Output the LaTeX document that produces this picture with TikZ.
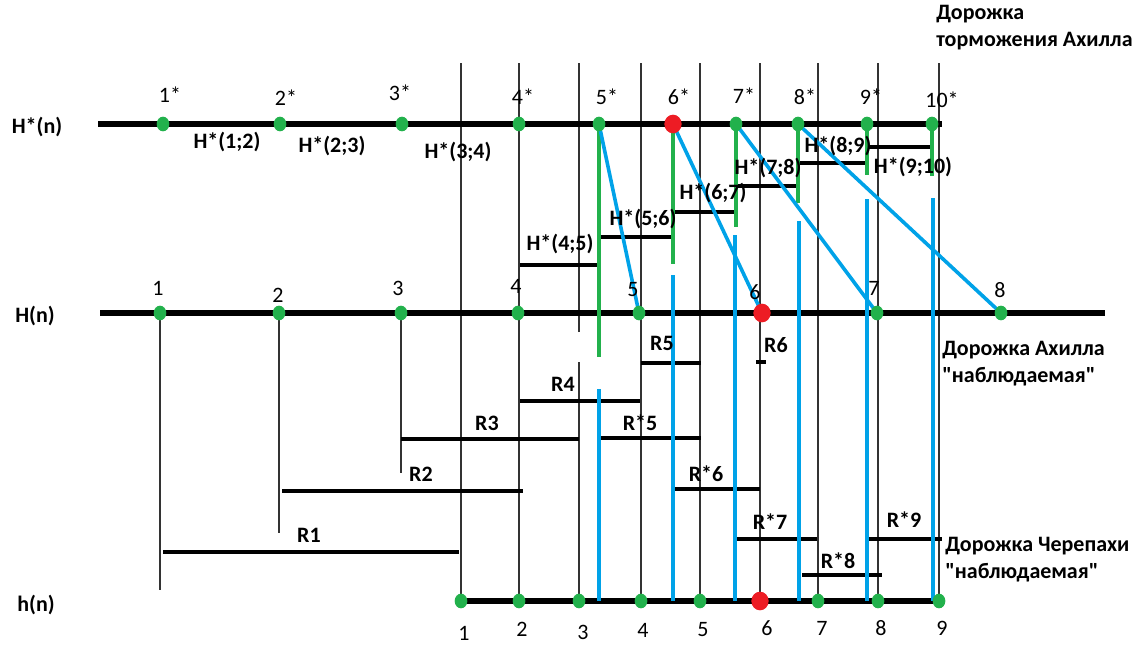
\documentclass[tikz,border=0pt]{standalone}
\usepackage{fontspec}
\setmainfont{Carlito}[Ligatures=TeXOff]
\usetikzlibrary{shapes.geometric}
\definecolor{pgreen}{HTML}{22B14C}
\definecolor{pblue}{HTML}{00A2E8}
\definecolor{pred}{HTML}{ED1C24}
\begin{document}
\begin{tikzpicture}[x=0.75pt,y=-0.75pt,
  track/.style={line width=4.4pt},
  thinline/.style={line width=0.8pt, draw=black!80},
  seg/.style={line width=2.8pt},
  gline/.style={line width=2.6pt, draw=pgreen},
  bline/.style={line width=2.7pt, draw=pblue},
  gdot/.style={ellipse, fill=pgreen, inner sep=0pt, minimum width=9.5pt, minimum height=11pt},
  rdot/.style={ellipse, fill=pred, inner sep=0pt, minimum width=13pt, minimum height=14pt},
  lbl/.style={font=\fontsize{16.5}{19}\selectfont\bfseries, inner sep=0pt},
  num/.style={font=\fontsize{16.5}{19}\selectfont, inner sep=0pt},
  side/.style={font=\fontsize{16.5}{20}\selectfont\bfseries, align=left, anchor=north west, inner sep=0pt}
]
\useasboundingbox (0,0) rectangle (1146,644);
% positions
\foreach \n/\x in {1/163,2/280,3/402,4/519,5/599,6/673,7/736,8/798,9/867,10/932}
  \coordinate (s\n) at (\x,124);
\foreach \n/\x in {1/160,2/279,3/401,4/518,5/639,6/762,7/877,8/1001}
  \coordinate (m\n) at (\x,313);
\foreach \n/\x in {1/461,2/519,3/579,4/641,5/700,6/760,7/818,8/878,9/939}
  \coordinate (b\n) at (\x,601);
\coordinate (topv) at (0,63);
\coordinate (gapA) at (0,332);
\coordinate (gapB) at (0,362);
% thin verticals
\foreach \n in {1,2,4,5,6,7,8,9}
  \draw[thinline] (b\n) -- (b\n |- topv);
\draw[thinline] (b3) -- (b3 |- gapB);
\draw[thinline] (b3 |- gapA) -- (b3 |- topv);
\coordinate (m1e) at (160,590);
\coordinate (m2e) at (279,533);
\coordinate (m3e) at (401,473);
\foreach \n in {1,2,3} \draw[thinline] (m\n) -- (m\n e);
% tracks
\coordinate (tA) at (98,124);  \coordinate (tB) at (942,124);
\coordinate (mA) at (100,313); \coordinate (mB) at (1105,313);
\coordinate (bA) at (458,601); \coordinate (bB) at (940,601);
\draw[track] (tA) -- (tB);
\draw[track] (mA) -- (mB);
\draw[track] (bA) -- (bB);
% H* staircase
\draw[seg] (520,265) -- (600,265);
\draw[seg] (600,237) -- (673,237);
\draw[seg] (673,212) -- (737,212);
\draw[seg] (737,186) -- (799,186);
\draw[seg] (799,163) -- (867,163);
\draw[seg] (867,147) -- (933,147);
% R segments
\draw[seg] (163,552) -- (459,552);
\draw[seg] (282,491) -- (523,491);
\draw[seg] (401,439) -- (579,439);
\draw[seg] (520,401) -- (640,401);
\draw[seg] (641,363) -- (701,363);
\draw[seg] (756,362) -- (766,362);
\draw[seg] (599,438) -- (701,438);
\draw[seg] (673,489) -- (760,489);
\draw[seg] (735,539) -- (817,539);
\draw[seg] (802,575) -- (882,575);
\draw[seg] (868,539) -- (942,539);
% green verticals
\coordinate (g5) at (599,357); \coordinate (g6) at (673,264);
\coordinate (g7) at (736,227); \coordinate (g8) at (798,203);
\coordinate (g9) at (867,175); \coordinate (g10) at (932,176);
\foreach \n in {5,...,10} \draw[gline] (s\n) -- (g\n);
% blue verticals
\foreach \n/\x/\y in {5/599/389,6/673/275,7/735/235,8/799/221,9/867/199,10/933/198}{
  \coordinate (u\n) at (\x,\y);
  \coordinate (v\n) at (\x,601);
  \draw[bline] (u\n) -- (v\n);
}
% blue diagonals
\foreach \n in {5,6,7,8} \draw[bline] (s\n) -- (m\n);
% dots
\foreach \n in {1,2,3,4,5,7,8,9,10} \node[gdot] (S\n) at (s\n) {};
\node[rdot] (S6) at (s6) {};
\foreach \n in {1,2,3,4,5,7,8} \node[gdot] (M\n) at (m\n) {};
\node[rdot] (M6) at (m6) {};
\foreach \n in {1,2,3,4,5,7,8,9} \node[gdot] (B\n) at (b\n) {};
\node[rdot] (B6) at (b6) {};
% star labels
\foreach \n/\x/\y in {1/170/95,2/286/98,3/400/93,4/523/97,5/607/97,6/679/97,7/744/96,8/805/97,9/871/97,10/942/100}
  \node[num] (ls\n) at (\x,\y) {\n*};
% middle labels
\foreach \n/\x/\y in {1/158/288,2/278/295,3/398/288,4/516/286,5/633/290,6/755/292,7/874/288,8/1000/290}
  \node[num] (lm\n) at (\x,\y) {\n};
% bottom labels
\foreach \n/\x/\y in {1/464/633,2/522/629,3/583/632,4/643/630,5/703/630,6/767/628,7/822/628,8/881/628,9/942/628}
  \node[num] (lb\n) at (\x,\y) {\n};
% H* labels
\node[lbl] (h12) at (227,142) {H*(1;2)};
\node[lbl] (h23) at (332,146) {H*(2;3)};
\node[lbl] (h34) at (458,152) {H*(3;4)};
\node[lbl] (h45) at (560,244) {H*(4;5)};
\node[lbl] (h56) at (643,219) {H*(5;6)};
\node[lbl] (h67) at (713,193) {H*(6;7)};
\node[lbl] (h78) at (768,168) {H*(7;8)};
\node[lbl] (h89) at (838,146) {H*(8;9)};
\node[lbl] (h910) at (913,167) {H*(9;10)};
% R labels
\node[lbl] (r1) at (309,535) {R1};
\node[lbl] (r2) at (421,474) {R2};
\node[lbl] (r3) at (487,423) {R3};
\node[lbl] (r4) at (563,384) {R4};
\node[lbl] (r5) at (662,343) {R5};
\node[lbl] (r6) at (776,345) {R6};
\node[lbl] (rs5) at (640,423) {R*5};
\node[lbl] (rs6) at (706,474) {R*6};
\node[lbl] (rs7) at (770,522) {R*7};
\node[lbl] (rs8) at (838,561) {R*8};
\node[lbl] (rs9) at (904,520) {R*9};
% track names
\node[lbl] (nH1) at (37,127) {H*(n)};
\node[lbl] (nH2) at (35,316) {H(n)};
\node[lbl] (nH3) at (36,605) {h(n)};
% side captions
\node[side] (c1) at (936,5) {Дорожка\\торможения Ахилла};
\node[side] (c2) at (942,341) {Дорожка Ахилла\\"наблюдаемая"};
\node[side] (c3) at (945,537) {Дорожка Черепахи\\"наблюдаемая"};
\end{tikzpicture}
\end{document}
